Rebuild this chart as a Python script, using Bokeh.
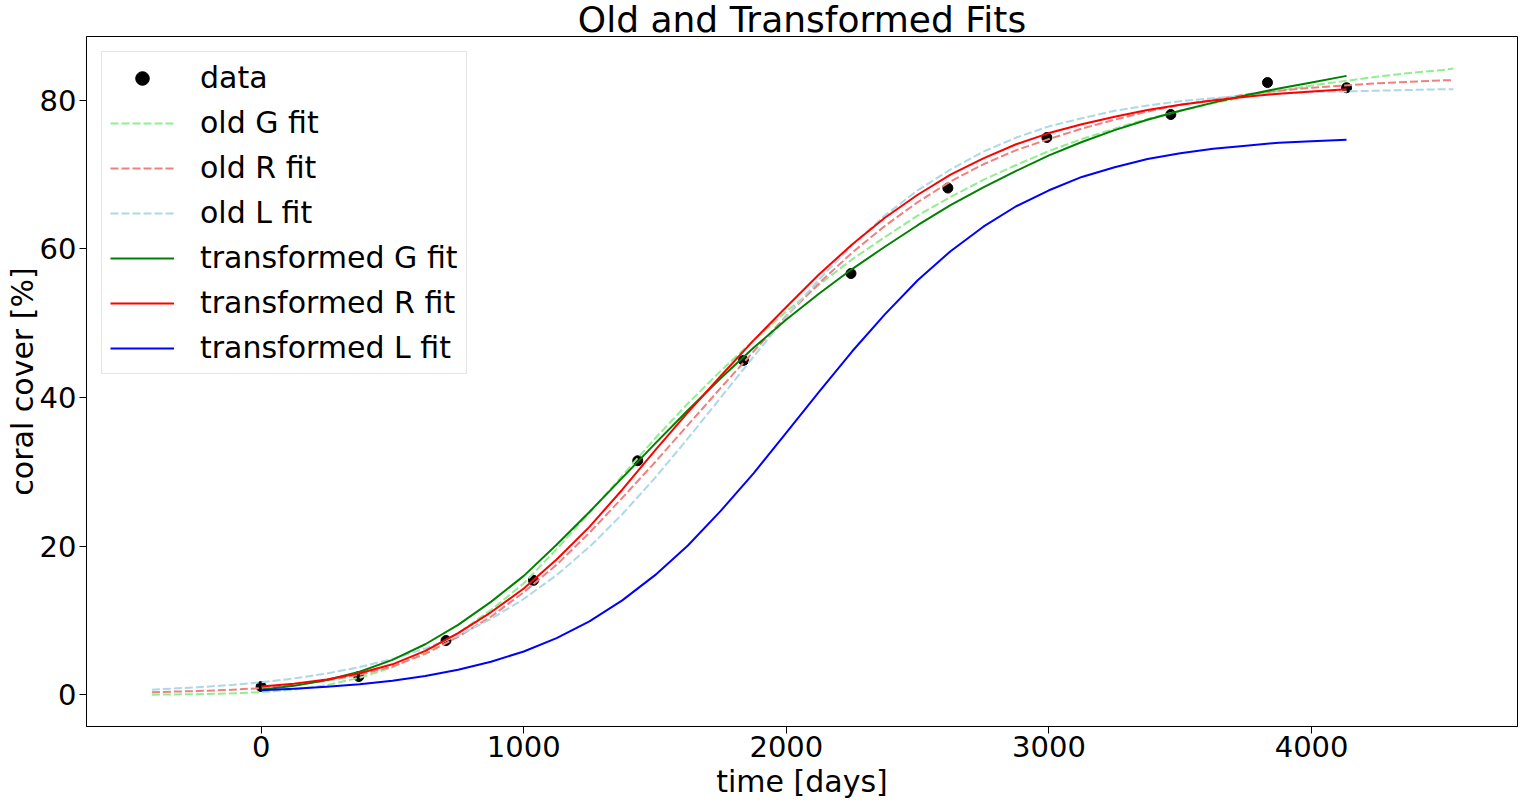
from bokeh.plotting import figure
from bokeh.models import Range1d, FixedTicker
from bokeh.embed import file_html
from bokeh.resources import INLINE

# measured data points
data_t = [0, 372, 704, 1037, 1434, 1837, 2246, 2615, 2992, 3464, 3832, 4133]
data_y = [1.1, 2.45, 7.3, 15.4, 31.5, 45.0, 56.7, 68.2, 75.0, 78.1, 82.4, 81.7]

# time samples of old fits (extended range) and transformed fits
t_old = [-416, -250, -125, 0, 125, 250, 375, 500, 625, 750, 875, 1000, 1125, 1250,
         1375, 1500, 1625, 1750, 1875, 2000, 2125, 2250, 2375, 2500, 2625, 2750,
         2875, 3000, 3125, 3250, 3375, 3500, 3625, 3750, 3875, 4000, 4125, 4250,
         4375, 4500, 4540]
t_new = [0, 125, 250, 375, 500, 625, 750, 875, 1000, 1125, 1250, 1375, 1500, 1625,
         1750, 1875, 2000, 2125, 2250, 2375, 2500, 2625, 2750, 2875, 3000, 3125,
         3250, 3375, 3500, 3625, 3750, 3875, 4000, 4133]

old_G = [0.02, 0.07, 0.17, 0.35, 0.7, 1.3, 2.3, 3.7, 5.7, 8.3, 11.4, 15.0, 19.6, 24.5,
         29.5, 34.5, 39.2, 43.6, 47.7, 51.6, 55.2, 58.6, 61.6, 64.5, 67.0, 69.3,
         71.3, 73.2, 74.8, 76.2, 77.5, 78.6, 79.6, 80.5, 81.3, 82.0, 82.6, 83.2,
         83.7, 84.1, 84.3]
old_R = [0.35, 0.5, 0.65, 0.9, 1.3, 1.9, 2.7, 3.8, 5.5, 7.8, 10.5, 13.8, 17.5, 21.8,
         26.5, 31.3, 36.3, 41.3, 46.2, 51.0, 55.4, 59.5, 63.1, 66.3, 69.1, 71.4,
         73.3, 74.8, 76.2, 77.4, 78.5, 79.4, 80.1, 80.8, 81.3, 81.7, 82.0, 82.3,
         82.5, 82.7, 82.7]
old_L = [0.69, 0.99, 1.29, 1.69, 2.2, 2.87, 3.73, 4.82, 6.22, 7.98, 10.2, 12.9, 16.1,
         19.9, 24.3, 29.2, 34.5, 40.0, 45.5, 50.9, 55.9, 60.5, 64.5, 67.9, 70.7,
         73.1, 75.0, 76.5, 77.6, 78.6, 79.3, 79.9, 80.3, 80.6, 80.9, 81.1, 81.2,
         81.3, 81.4, 81.5, 81.5]

new_G = [0.67, 1.2, 2.0, 3.1, 4.7, 6.8, 9.4, 12.5, 16.0, 20.2, 24.6, 29.2, 33.8, 38.3,
         42.6, 46.7, 50.5, 54.0, 57.3, 60.3, 63.2, 65.9, 68.3, 70.5, 72.6, 74.4,
         76.0, 77.4, 78.6, 79.7, 80.7, 81.6, 82.4, 83.3]
new_R = [1.1, 1.5, 2.05, 2.9, 4.1, 5.9, 8.3, 11.1, 14.3, 18.2, 22.6, 27.6, 32.9, 38.0,
         42.9, 47.7, 52.2, 56.6, 60.6, 64.2, 67.3, 70.0, 72.2, 74.1, 75.6, 76.8,
         77.8, 78.7, 79.4, 80.0, 80.5, 80.9, 81.2, 81.5]
new_L = [0.6, 0.8, 1.07, 1.43, 1.9, 2.53, 3.36, 4.44, 5.83, 7.63, 9.89, 12.7, 16.1,
         20.1, 24.75, 29.8, 35.3, 40.8, 46.2, 51.2, 55.8, 59.7, 63.0, 65.75, 67.9,
         69.7, 71.0, 72.1, 72.9, 73.5, 73.9, 74.3, 74.5, 74.7]

x_ticks = [0, 1000, 2000, 3000, 4000]
y_ticks = [0, 20, 40, 60, 80]

FONT = "DejaVu Sans"

p = figure(width=1536, height=802, output_backend="svg", toolbar_location=None,
           x_range=Range1d(-665, 4784), y_range=Range1d(-4.27, 88.6),
           title="Old and Transformed Fits",
           min_border_left=86, min_border_right=19, min_border_top=20,
           min_border_bottom=76)

p.title.text_font = FONT
p.title.text_font_size = "36px"
p.title.text_font_style = "normal"
p.title.align = "center"
p.title.text_color = "black"
p.title.standoff = -7
p.title.offset = 0

p.scatter(data_t, data_y, size=10, color="black", legend_label="data")
p.line(t_old, old_G, line_color="lightgreen", line_width=2, line_dash="8 3",
       line_join="round", legend_label="old G fit")
p.line(t_old, old_R, line_color="lightcoral", line_width=2, line_dash="8 3",
       line_join="round", legend_label="old R fit")
p.line(t_old, old_L, line_color="lightblue", line_width=2, line_dash="8 3",
       line_join="round", legend_label="old L fit")
p.line(t_new, new_G, line_color="green", line_width=2, line_join="round",
       legend_label="transformed G fit")
p.line(t_new, new_R, line_color="red", line_width=2, line_join="round",
       legend_label="transformed R fit")
p.line(t_new, new_L, line_color="blue", line_width=2, line_join="round",
       legend_label="transformed L fit")

p.grid.visible = False
p.outline_line_color = "black"
p.outline_line_width = 1
p.outline_line_alpha = 1

for ax in (p.xaxis[0], p.yaxis[0]):
    ax.major_label_text_font = FONT
    ax.major_label_text_font_size = "29px"
    ax.major_label_text_color = "black"
    ax.axis_label_text_font = FONT
    ax.axis_label_text_font_size = "30px"
    ax.axis_label_text_font_style = "normal"
    ax.axis_label_text_color = "black"
    ax.major_tick_out = 7
    ax.major_tick_in = 0
    ax.minor_tick_out = 0
    ax.minor_tick_in = 0
    ax.major_tick_line_color = "black"
    ax.axis_line_color = "black"

p.xaxis[0].major_label_text_line_height = 1.0
p.xaxis[0].axis_label_text_line_height = 1.0
p.xaxis[0].major_label_standoff = 2
p.xaxis[0].axis_label_standoff = 4
p.yaxis[0].axis_label_text_line_height = 1.0
p.yaxis[0].major_label_standoff = 3
p.yaxis[0].axis_label_standoff = -3

p.xaxis[0].ticker = FixedTicker(ticks=x_ticks)
p.yaxis[0].ticker = FixedTicker(ticks=y_ticks)
p.xaxis[0].axis_label = "time [days]"
p.yaxis[0].axis_label = "coral cover [%]"

lg = p.legend[0]
lg.location = "top_left"
lg.margin = 15
lg.padding = 8
lg.spacing = 10
lg.label_text_font = FONT
lg.label_text_font_size = "30px"
lg.label_text_color = "black"
lg.label_height = 34
lg.glyph_height = 34
lg.glyph_width = 64
lg.label_standoff = 26
lg.border_line_color = "#cccccc"
lg.border_line_width = 1
lg.background_fill_alpha = 0.8

open("out.html", "w").write(file_html(p, INLINE))
